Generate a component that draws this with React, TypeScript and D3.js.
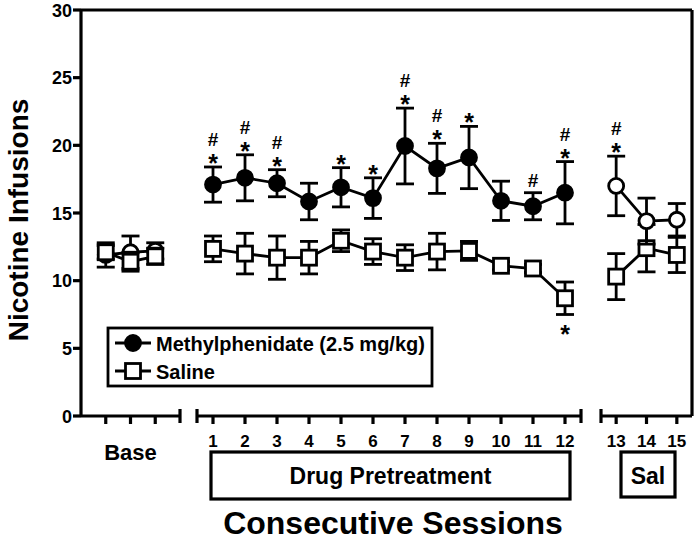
import React from "react";
import * as d3 from "d3";

// sessions per axis segment
const baseSessions = [1, 2, 3];
const drugSessions = [1, 2, 3, 4, 5, 6, 7, 8, 9, 10, 11, 12];
const salSessions = [13, 14, 15];

// Methylphenidate group (filled during drug, open at base / saline)
const mphBase = [11.9, 12.1, 12.2];
const mphBaseSem = [0.9, 1.2, 0.6];
const mphDrug = [17.1, 17.6, 17.2, 15.85, 16.9, 16.1, 19.95, 18.3, 19.1, 15.9, 15.5, 16.5];
const mphDrugSem = [1.3, 1.7, 1.0, 1.35, 1.45, 1.5, 2.8, 1.85, 2.3, 1.45, 1.0, 2.3];
const mphSal = [17.0, 14.4, 14.5];
const mphSalSem = [2.2, 1.7, 1.2];

// Saline group
const salBase = [12.1, 11.4, 11.8];
const salBaseSem = [0.5, 0.7, 0.6];
const salDrug = [12.35, 12.0, 11.7, 11.7, 12.95, 12.15, 11.7, 12.15, 12.2, 11.1, 10.9, 8.7];
const salDrugSem = [0.95, 1.5, 1.6, 1.2, 0.8, 0.95, 0.95, 1.35, 0.7, 0.3, 0.3, 1.2];
const salSal = [10.3, 12.4, 11.9];
const salSalSem = [1.7, 1.75, 1.3];

// significance marks above methylphenidate points
const mphDrugMarks = ["*#", "*#", "*#", "", "*", "*", "*#", "*#", "*", "", "#", "*#"];
const mphSalMarks = ["*#", "", ""];
// marks below saline points
const salDrugMarksBelow = ["", "", "", "", "", "", "", "", "", "", "", "*"];

const yTicks = [0, 5, 10, 15, 20, 25, 30];

const FONT = "'Liberation Sans', Arial, Helvetica, sans-serif";

const y = d3.scaleLinear().domain([0, 30]).range([416, 10]);
const xBase = d3.scaleLinear().domain([0, 4]).range([81, 180]);
const xDrug = d3.scaleLinear().domain([0.5, 12.5]).range([197, 581]);
const xSal = d3.scaleLinear().domain([12.5, 15.5]).range([601, 692]);

const SW = 2.8;
const CAP = 9;

function Series({ xs, vals, sems, x, shape, fill }) {
  const line = d3
    .line()
    .x((d) => x(d[0]))
    .y((d) => y(d[1]));
  const pts = xs.map((s, i) => [s, vals[i]]);
  return (
    <g>
      <path d={line(pts)} fill="none" stroke="#000" strokeWidth={SW} />
      {xs.map((s, i) => {
        const cx = x(s);
        const top = y(vals[i] + sems[i]);
        const bot = y(vals[i] - sems[i]);
        return (
          <g key={"e" + i} stroke="#000" strokeWidth={SW}>
            <line x1={cx} x2={cx} y1={top} y2={bot} />
            <line x1={cx - CAP} x2={cx + CAP} y1={top} y2={top} />
            <line x1={cx - CAP} x2={cx + CAP} y1={bot} y2={bot} />
          </g>
        );
      })}
      {xs.map((s, i) => {
        const cx = x(s);
        const cy = y(vals[i]);
        return shape === "circle" ? (
          <circle key={"m" + i} cx={cx} cy={cy} r={7.5} fill={fill} stroke="#000" strokeWidth={SW} />
        ) : (
          <rect key={"m" + i} x={cx - 7.5} y={cy - 7.5} width={15} height={15} fill={fill} stroke="#000" strokeWidth={SW} />
        );
      })}
    </g>
  );
}

function MarksAbove({ xs, vals, sems, marks, x }) {
  return (
    <g fontFamily={FONT} fontWeight="bold" textAnchor="middle">
      {xs.map((s, i) => {
        const m = marks[i];
        if (!m) return null;
        const cx = x(s);
        const top = y(vals[i] + sems[i]);
        const hasStar = m.includes("*");
        const hasHash = m.includes("#");
        return (
          <g key={i}>
            {hasStar && (
              <text x={cx} y={top + 5} fontSize={25}>
                *
              </text>
            )}
            {hasHash && (
              <text x={cx} y={hasStar ? top - 21 : top - 6} fontSize={19}>
                #
              </text>
            )}
          </g>
        );
      })}
    </g>
  );
}

function MarksBelow({ xs, vals, sems, marks, x }) {
  return (
    <g fontFamily={FONT} fontWeight="bold" fontSize={25} textAnchor="middle">
      {xs.map((s, i) =>
        marks[i] ? (
          <text key={i} x={x(s)} y={y(vals[i] - sems[i]) + 28}>
            *
          </text>
        ) : null
      )}
    </g>
  );
}

function Segment({ x, from, to, ticks, capLeft, capRight }) {
  const yy = y(0);
  return (
    <g stroke="#000" strokeWidth={3.2}>
      <line x1={from} x2={to} y1={yy} y2={yy} />
      {capLeft && <line x1={from} x2={from} y1={yy - 7} y2={yy + 7} />}
      {capRight && <line x1={to} x2={to} y1={yy - 7} y2={yy + 7} />}
      {ticks.map((t) => (
        <line key={t} x1={x(t)} x2={x(t)} y1={yy} y2={yy + 8} />
      ))}
    </g>
  );
}

export default function App() {
  const axisY0 = y(0);
  return (
    <svg
      width={696}
      height={540}
      style={{ position: "absolute", left: 0, top: 0, background: "#fff" }}
    >
      {/* frame */}
      <g stroke="#000" strokeWidth={3.2} fill="none">
        <line x1={81} x2={81} y1={y(30)} y2={axisY0} />
        <line x1={81} x2={692} y1={y(30)} y2={y(30)} />
        <line x1={692} x2={692} y1={y(30)} y2={axisY0} />
        {yTicks.map((t) => (
          <line key={t} x1={73} x2={81} y1={y(t)} y2={y(t)} />
        ))}
      </g>
      <g fontFamily={FONT} fontWeight="bold" fontSize={18} textAnchor="end">
        {yTicks.map((t) => (
          <text key={t} x={72} y={y(t) + 6.5}>
            {t}
          </text>
        ))}
      </g>
      <text
        transform={`translate(28,220) rotate(-90)`}
        textAnchor="middle"
        fontFamily={FONT}
        fontWeight="bold"
        fontSize={28}
      >
        Nicotine Infusions
      </text>

      {/* x axis segments */}
      <Segment x={xBase} from={81} to={180} ticks={baseSessions} capLeft={false} capRight />
      <Segment x={xDrug} from={197} to={581} ticks={drugSessions} capLeft capRight />
      <Segment x={xSal} from={601} to={692} ticks={salSessions} capLeft capRight={false} />

      <g fontFamily={FONT} fontWeight="bold" fontSize={17} textAnchor="middle">
        {drugSessions.map((s) => (
          <text key={s} x={xDrug(s)} y={447}>
            {s}
          </text>
        ))}
        {salSessions.map((s) => (
          <text key={s} x={xSal(s)} y={447}>
            {s}
          </text>
        ))}
      </g>
      <text x={xBase(2)} y={460} textAnchor="middle" fontFamily={FONT} fontWeight="bold" fontSize={22}>
        Base
      </text>

      <rect x={211} y={452} width={359} height={47} fill="none" stroke="#000" strokeWidth={3.2} />
      <text x={390.5} y={484} textAnchor="middle" fontFamily={FONT} fontWeight="bold" fontSize={23}>
        Drug Pretreatment
      </text>
      <rect x={621} y={452} width={54} height={45} fill="none" stroke="#000" strokeWidth={3.2} />
      <text x={648} y={484} textAnchor="middle" fontFamily={FONT} fontWeight="bold" fontSize={23}>
        Sal
      </text>

      <text x={393} y={534} textAnchor="middle" fontFamily={FONT} fontWeight="bold" fontSize={32}>
        Consecutive Sessions
      </text>

      {/* data */}
      <Series xs={baseSessions} vals={mphBase} sems={mphBaseSem} x={xBase} shape="circle" fill="#fff" />
      <Series xs={baseSessions} vals={salBase} sems={salBaseSem} x={xBase} shape="square" fill="#fff" />

      <Series xs={drugSessions} vals={salDrug} sems={salDrugSem} x={xDrug} shape="square" fill="#fff" />
      <Series xs={drugSessions} vals={mphDrug} sems={mphDrugSem} x={xDrug} shape="circle" fill="#000" />

      <Series xs={salSessions} vals={salSal} sems={salSalSem} x={xSal} shape="square" fill="#fff" />
      <Series xs={salSessions} vals={mphSal} sems={mphSalSem} x={xSal} shape="circle" fill="#fff" />

      <MarksAbove xs={drugSessions} vals={mphDrug} sems={mphDrugSem} marks={mphDrugMarks} x={xDrug} />
      <MarksAbove xs={salSessions} vals={mphSal} sems={mphSalSem} marks={mphSalMarks} x={xSal} />
      <MarksBelow xs={drugSessions} vals={salDrug} sems={salDrugSem} marks={salDrugMarksBelow} x={xDrug} />

      {/* legend */}
      <g>
        <rect x={108} y={328} width={324} height={58} fill="#fff" stroke="#000" strokeWidth={2.8} />
        <line x1={115} x2={151} y1={343} y2={343} stroke="#000" strokeWidth={SW} />
        <circle cx={133} cy={343} r={7.5} fill="#000" stroke="#000" strokeWidth={SW} />
        <line x1={115} x2={151} y1={371} y2={371} stroke="#000" strokeWidth={SW} />
        <rect x={125.5} y={363.5} width={15} height={15} fill="#fff" stroke="#000" strokeWidth={SW} />
        <text x={156} y={350.5} fontFamily={FONT} fontWeight="bold" fontSize={20}>
          Methylphenidate (2.5 mg/kg)
        </text>
        <text x={156} y={378.5} fontFamily={FONT} fontWeight="bold" fontSize={20}>
          Saline
        </text>
      </g>
    </svg>
  );
}
